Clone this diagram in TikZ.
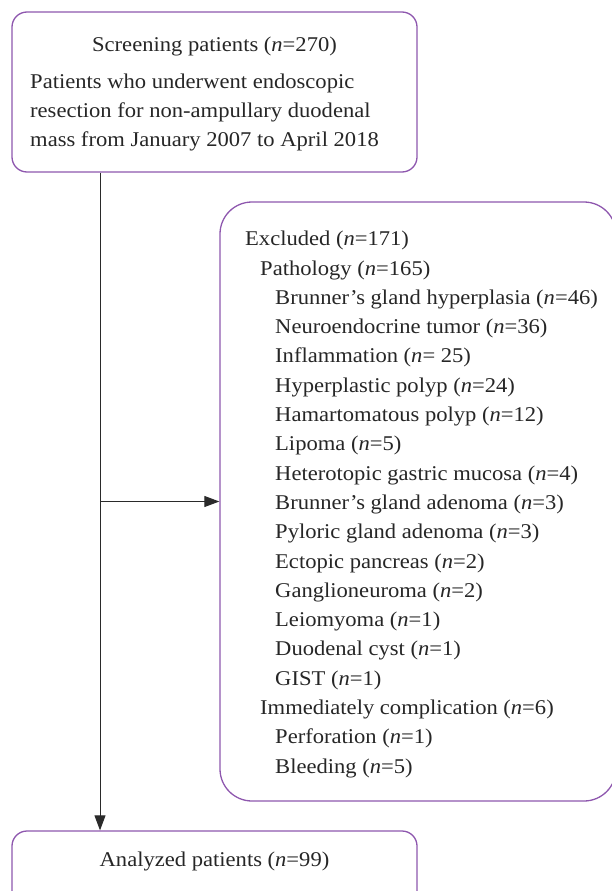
\documentclass[tikz,border=0pt]{standalone}
\usepackage{fontspec}
\setmainfont{Liberation Serif}[FakeStretch=1.075]
\usetikzlibrary{arrows.meta}
\definecolor{boxpurple}{HTML}{8E57AE}
\definecolor{linegray}{HTML}{2A2A2A}
\tikzset{
  flowbox/.style={draw=boxpurple, line width=1.3pt, rounded corners=15pt, inner sep=0pt},
  bigbox/.style={draw=boxpurple, line width=1.3pt, rounded corners=32pt, inner sep=0pt},
  txt/.style={font=\fontsize{21}{29.3}\selectfont, text=black!85, inner sep=0pt},
  conn/.style={draw=linegray, line width=1pt},
  arr/.style={conn, -{Triangle[length=15pt,width=11pt]}}
}
\begin{document}
\begin{tikzpicture}[x=1pt,y=-1pt]
\useasboundingbox (0,0) rectangle (611,891);
% boxes
\node[flowbox, minimum width=405pt, minimum height=160pt] (top) at (214.5,92) {};
\node[bigbox, minimum width=396pt, minimum height=599pt] (ex) at (418,501.5) {};
\node[flowbox, minimum width=405pt, minimum height=80pt] (bot) at (214.5,871) {};
% texts
\node[txt] (toptitle) at (214.5,46.5) {Screening patients (\textit{n}=270)};
\node[txt, anchor=north west, align=left] (topbody) at (30,73.5) {Patients who underwent endoscopic\\resection for non-ampullary duodenal\\mass from January 2007 to April 2018};
\node[txt] (bottxt) at (214.5,861.5) {Analyzed patients (\textit{n}=99)};
\node[txt, anchor=north west, align=left] (extxt) at (245,231) {Excluded (\textit{n}=171)\\
\hspace*{15pt}Pathology (\textit{n}=165)\\
\hspace*{30pt}Brunner’s gland hyperplasia (\textit{n}=46)\\
\hspace*{30pt}Neuroendocrine tumor (\textit{n}=36)\\
\hspace*{30pt}Inflammation (\textit{n}= 25)\\
\hspace*{30pt}Hyperplastic polyp (\textit{n}=24)\\
\hspace*{30pt}Hamartomatous polyp (\textit{n}=12)\\
\hspace*{30pt}Lipoma (\textit{n}=5)\\
\hspace*{30pt}Heterotopic gastric mucosa (\textit{n}=4)\\
\hspace*{30pt}Brunner’s gland adenoma (\textit{n}=3)\\
\hspace*{30pt}Pyloric gland adenoma (\textit{n}=3)\\
\hspace*{30pt}Ectopic pancreas (\textit{n}=2)\\
\hspace*{30pt}Ganglioneuroma (\textit{n}=2)\\
\hspace*{30pt}Leiomyoma (\textit{n}=1)\\
\hspace*{30pt}Duodenal cyst (\textit{n}=1)\\
\hspace*{30pt}GIST (\textit{n}=1)\\
\hspace*{15pt}Immediately complication (\textit{n}=6)\\
\hspace*{30pt}Perforation (\textit{n}=1)\\
\hspace*{30pt}Bleeding (\textit{n}=5)};
% connectors
\coordinate (spine) at (100,0);
\draw[arr] (top.south -| spine) -- (bot.north -| spine);
\draw[arr] (ex.west -| spine) -- (ex.west);
\end{tikzpicture}
\end{document}
